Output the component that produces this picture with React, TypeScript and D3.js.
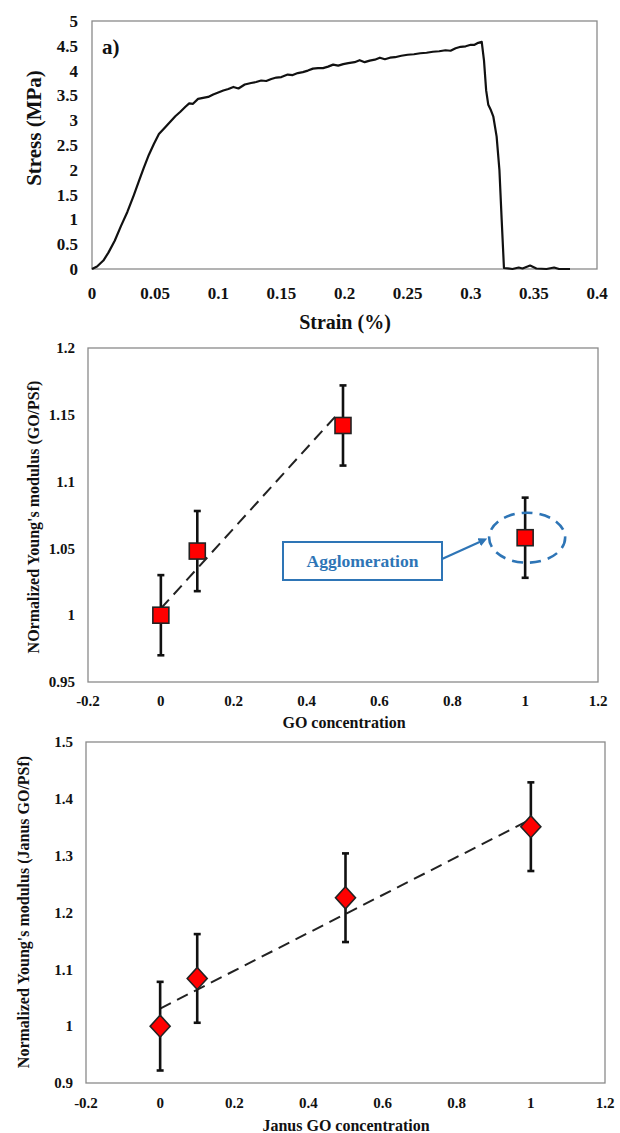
import React from 'react';
import * as d3 from 'd3';

// a) stress-strain curve, [strain (%), stress (MPa)]
const stressStrain: [number, number][] = [
  [0, 0], [0.004, 0.05], [0.009, 0.17], [0.013, 0.33], [0.018, 0.57], [0.023, 0.87],
  [0.028, 1.15], [0.033, 1.48], [0.037, 1.76], [0.041, 2.04], [0.045, 2.3], [0.049, 2.52],
  [0.053, 2.72], [0.058, 2.86], [0.062, 2.97], [0.066, 3.08], [0.07, 3.17], [0.074, 3.27],
  [0.077, 3.34], [0.08, 3.33], [0.084, 3.43], [0.088, 3.45], [0.092, 3.47], [0.096, 3.52],
  [0.1, 3.56], [0.104, 3.6], [0.108, 3.63], [0.112, 3.67], [0.116, 3.64], [0.121, 3.72],
  [0.126, 3.75], [0.13, 3.77], [0.134, 3.8], [0.138, 3.79], [0.142, 3.83], [0.146, 3.86],
  [0.15, 3.87], [0.155, 3.92], [0.159, 3.91], [0.163, 3.95], [0.167, 3.97], [0.171, 4.0],
  [0.175, 4.04], [0.179, 4.05], [0.183, 4.05], [0.187, 4.08], [0.191, 4.12], [0.195, 4.1],
  [0.199, 4.13], [0.203, 4.15], [0.208, 4.17], [0.212, 4.21], [0.216, 4.17], [0.22, 4.2],
  [0.224, 4.22], [0.228, 4.26], [0.232, 4.23], [0.236, 4.26], [0.24, 4.27], [0.245, 4.3],
  [0.25, 4.32], [0.255, 4.33], [0.26, 4.35], [0.265, 4.36], [0.27, 4.38], [0.275, 4.39],
  [0.28, 4.41], [0.284, 4.4], [0.288, 4.45], [0.292, 4.48], [0.296, 4.49], [0.3, 4.52],
  [0.303, 4.52], [0.306, 4.56], [0.3087, 4.58], [0.3105, 4.2], [0.3122, 3.6], [0.3139, 3.31],
  [0.316, 3.2], [0.3179, 3.07], [0.3205, 2.67], [0.3227, 2.0], [0.3245, 0.99], [0.3263, 0.02],
  [0.333, 0], [0.338, 0.03], [0.341, 0.01], [0.347, 0.07], [0.352, 0.01], [0.36, 0],
  [0.366, 0.03], [0.37, 0], [0.3786, 0],
];
const strainTicks = [0, 0.05, 0.1, 0.15, 0.2, 0.25, 0.3, 0.35, 0.4];
const stressTicks = [0, 0.5, 1, 1.5, 2, 2.5, 3, 3.5, 4, 4.5, 5];

// GO / PSf
const goConc = [0, 0.1, 0.5, 1];
const goModulus = [1.0, 1.048, 1.142, 1.058];
const goError = [0.03, 0.03, 0.03, 0.03];
const goTrendX = [0, 0.49];
const goTrendY = [1.005, 1.152];
const goYTicks = [0.95, 1, 1.05, 1.1, 1.15, 1.2];

// Janus GO / PSf
const janusConc = [0, 0.1, 0.5, 1];
const janusModulus = [1.0, 1.084, 1.226, 1.351];
const janusError = [0.078, 0.078, 0.078, 0.078];
const janusTrendX = [0, 1];
const janusTrendY = [1.031, 1.364];
const janusYTicks = [0.9, 1, 1.1, 1.2, 1.3, 1.4, 1.5];

const concTicks = [-0.2, 0, 0.2, 0.4, 0.6, 0.8, 1, 1.2];

const FONT = "'Liberation Serif', 'Times New Roman', serif";
const FRAME = '#8a8a8a';
const BLUE = '#2E75B6';

const T = (p: any) => (
  <text fontFamily={FONT} fontWeight="bold" fill="#111" {...p} />
);

const Frame = ({ x, y }: { x: any; y: any }) => {
  const [x0, x1] = x.range();
  const [y0, y1] = y.range();
  return (
    <rect x={x0} y={y1} width={x1 - x0} height={y0 - y1} fill="none" stroke={FRAME} strokeWidth={1.3} />
  );
};

const TopChart = () => {
  const x = d3.scaleLinear().domain([0, 0.4]).range([92, 597]);
  const y = d3.scaleLinear().domain([0, 5]).range([269, 21]);
  const line = d3.line<[number, number]>().x(d => x(d[0])).y(d => y(d[1]));
  return (
    <g>
      <Frame x={x} y={y} />
      <path d={line(stressStrain) || ''} fill="none" stroke="#111" strokeWidth={2.2} strokeLinejoin="round" />
      {stressTicks.map(t => (
        <T key={'y' + t} x={78} y={y(t)} dy="0.35em" textAnchor="end" fontSize={17}>{t}</T>
      ))}
      {strainTicks.map(t => (
        <T key={'x' + t} x={x(t)} y={299} textAnchor="middle" fontSize={17}>{t}</T>
      ))}
      <T x={345} y={329} textAnchor="middle" fontSize={20}>Strain (%)</T>
      <T transform={`translate(41,${128}) rotate(-90)`} textAnchor="middle" fontSize={21}>Stress (MPa)</T>
      <T x={102} y={54} fontSize={21}>a)</T>
    </g>
  );
};

const ErrorPoints = ({ x, y, xs, ys, errs, shape }: any) => (
  <g>
    {xs.map((c: number, i: number) => {
      const cx = x(c);
      const top = y(ys[i] + errs[i]);
      const bot = y(ys[i] - errs[i]);
      return (
        <g key={i}>
          <line x1={cx} x2={cx} y1={top} y2={bot} stroke="#111" strokeWidth={2.6} />
          <line x1={cx - 3.5} x2={cx + 3.5} y1={top} y2={top} stroke="#111" strokeWidth={2.6} />
          <line x1={cx - 3.5} x2={cx + 3.5} y1={bot} y2={bot} stroke="#111" strokeWidth={2.6} />
        </g>
      );
    })}
    {xs.map((c: number, i: number) => {
      const cx = x(c);
      const cy = y(ys[i]);
      return shape === 'square' ? (
        <rect key={'m' + i} x={cx - 8} y={cy - 8} width={16} height={16} fill="#ff0000" stroke="#222" strokeWidth={1.6} />
      ) : (
        <path key={'m' + i} d={`M${cx},${cy - 11}L${cx + 10},${cy}L${cx},${cy + 11}L${cx - 10},${cy}Z`} fill="#ff0000" stroke="#222" strokeWidth={1.6} />
      );
    })}
  </g>
);

const Axes = ({ x, y, yTicks, yLabelX, xLabelY, fontSize }: any) => (
  <g>
    {yTicks.map((t: number) => (
      <T key={'y' + t} x={yLabelX} y={y(t)} dy="0.35em" textAnchor="end" fontSize={fontSize}>{t}</T>
    ))}
    {concTicks.map(t => (
      <T key={'x' + t} x={x(t)} y={xLabelY} textAnchor="middle" fontSize={fontSize}>{t}</T>
    ))}
  </g>
);

const MiddleChart = () => {
  const x = d3.scaleLinear().domain([-0.2, 1.2]).range([88, 598]);
  const y = d3.scaleLinear().domain([0.95, 1.2]).range([682, 348]);
  const trend = d3.line<number>().x(d => x(d)).y((d, i) => y(goTrendY[i]));
  const ex = x(goConc[3]);
  const ey = y(goModulus[3]);
  return (
    <g>
      <Frame x={x} y={y} />
      <Axes x={x} y={y} yTicks={goYTicks} yLabelX={75} xLabelY={706} fontSize={15} />
      <path d={trend(goTrendX) || ''} fill="none" stroke="#222" strokeWidth={2} strokeDasharray="12,7" />
      <ErrorPoints x={x} y={y} xs={goConc} ys={goModulus} errs={goError} shape="square" />
      <ellipse cx={ex + 2} cy={ey} rx={38} ry={25} fill="none" stroke={BLUE} strokeWidth={2.6} strokeDasharray="11,7" />
      <rect x={283} y={542} width={159} height={38} fill="#fff" stroke={BLUE} strokeWidth={2} />
      <T x={362.5} y={561} dy="0.35em" textAnchor="middle" fontSize={17.5} fill={BLUE}>Agglomeration</T>
      <line x1={442} y1={559} x2={484} y2={540} stroke={BLUE} strokeWidth={2.2} markerEnd="url(#arrowBlue)" />
      <T x={344} y={728} textAnchor="middle" fontSize={16}>GO concentration</T>
      <T transform={`translate(39,517) rotate(-90)`} textAnchor="middle" fontSize={16}>NOrmalized Young's modulus (GO/PSf)</T>
    </g>
  );
};

const BottomChart = () => {
  const x = d3.scaleLinear().domain([-0.2, 1.2]).range([86, 605]);
  const y = d3.scaleLinear().domain([0.9, 1.5]).range([1083, 742]);
  const trend = d3.line<number>().x(d => x(d)).y((d, i) => y(janusTrendY[i]));
  return (
    <g>
      <Frame x={x} y={y} />
      <Axes x={x} y={y} yTicks={janusYTicks} yLabelX={73} xLabelY={1108} fontSize={15} />
      <path d={trend(janusTrendX) || ''} fill="none" stroke="#222" strokeWidth={2} strokeDasharray="12,7" />
      <ErrorPoints x={x} y={y} xs={janusConc} ys={janusModulus} errs={janusError} shape="diamond" />
      <T x={346} y={1131} textAnchor="middle" fontSize={16}>Janus GO concentration</T>
      <T transform={`translate(29,912) rotate(-90)`} textAnchor="middle" fontSize={16}>Normalized Young's modulus (Janus GO/PSf)</T>
    </g>
  );
};

export default function App() {
  return (
    <svg width={620} height={1133} style={{ position: 'absolute', left: 0, top: 0, background: '#fff' }}>
      <defs>
        <marker id="arrowBlue" viewBox="0 0 10 10" refX="6" refY="5" markerWidth="4" markerHeight="4" orient="auto">
          <path d="M0,0L10,5L0,10Z" fill={BLUE} />
        </marker>
      </defs>
      <TopChart />
      <MiddleChart />
      <BottomChart />
    </svg>
  );
}
